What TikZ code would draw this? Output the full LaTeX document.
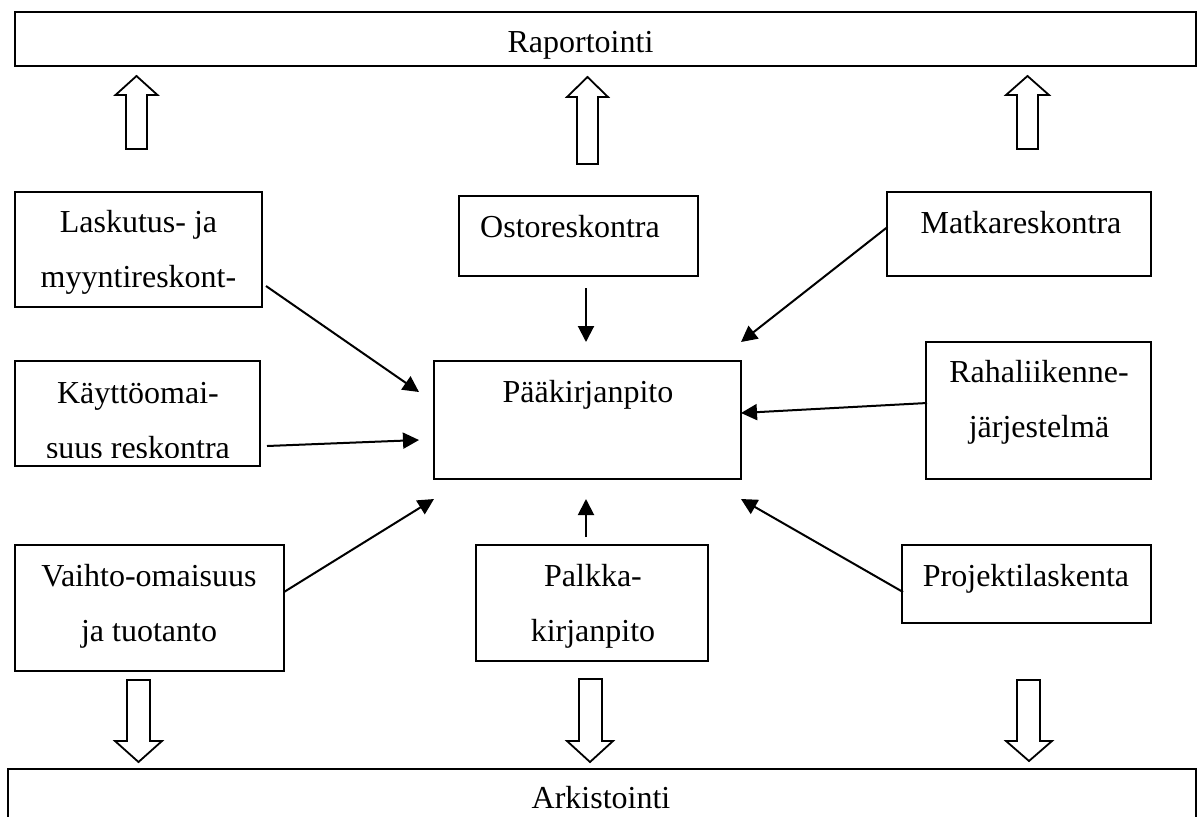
\documentclass[tikz,border=0pt]{standalone}
\usepackage{fontspec}
\setmainfont{Liberation Serif}
\usetikzlibrary{arrows.meta}
\begin{document}
\begin{tikzpicture}[x=0.5pt,y=-0.5pt,
  box/.style={draw,line width=1pt,inner sep=0pt,outer sep=0pt,rectangle},
  txt/.style={anchor=base,align=center,inner sep=0pt,font=\fontsize{16pt}{27.5pt}\selectfont},
  conn/.style={line width=1pt,-{Triangle[length=8pt,width=8pt]}},
  hollow/.style={draw,line width=0.9pt,fill=white,line join=miter}]
\useasboundingbox (0,0) rectangle (1200,816);
\clip (0,0) rectangle (1200,816);

% boxes
\node[box,minimum width=590.5pt,minimum height=27pt] (rap) at (605.5,39) {};
\node[box,minimum width=123.5pt,minimum height=57.5pt] (lask) at (138.5,249.5) {};
\node[box,minimum width=119.5pt,minimum height=40pt] (osto) at (578.5,236) {};
\node[box,minimum width=132pt,minimum height=42pt] (matka) at (1019,234) {};
\node[box,minimum width=122.5pt,minimum height=52.5pt] (kaytto) at (137.5,413.5) {};
\node[box,minimum width=153.5pt,minimum height=59pt] (paa) at (587.5,420) {};
\node[box,minimum width=112.5pt,minimum height=68.5pt] (raha) at (1038.5,410.5) {};
\node[box,minimum width=134.5pt,minimum height=63pt] (vaihto) at (149.5,608) {};
\node[box,minimum width=116pt,minimum height=58pt] (palkka) at (592,603) {};
\node[box,minimum width=124.5pt,minimum height=39pt] (proj) at (1026.5,584) {};
\node[box,minimum width=594pt,minimum height=50pt] (ark) at (602,819) {};

% texts (base anchor = baseline of the last line)
\node[txt] (rapT) at (580.5,52) {Raportointi};
\node[txt] (laskT) at (138.5,287) {Laskutus- ja\\myyntireskont-};
\node[txt] (ostoT) at (570,237) {Ostoreskontra};
\node[txt] (matkaT) at (1021,233) {Matkareskontra};
\begin{scope}
  \clip ([yshift=4.5pt]kaytto.south west) rectangle (kaytto.north east);
  \node[txt] (kayttoT) at (138,458) {Käyttöomai-\\suus reskontra};
\end{scope}
\node[txt] (paaT) at (588,402) {Pääkirjanpito};
\node[txt] (rahaT) at (1039,437) {Rahaliikenne-\\järjestelmä};
\node[txt] (vaihtoT) at (149,641) {Vaihto-omaisuus\\ja tuotanto};
\node[txt] (palkkaT) at (593,641) {Palkka-\\kirjanpito};
\node[txt] (projT) at (1026,586) {Projektilaskenta};
\node[txt] (arkT) at (601,808) {Arkistointi};

% arrow tips around the central box
\coordinate (t1) at ([shift={(-7.5pt,14pt)}]paa.west);
\coordinate (t2) at ([shift={(-0.75pt,9.5pt)}]paa.north);
\coordinate (t3) at ([shift={(0pt,9.5pt)}]paa.north east);
\coordinate (t4) at ([shift={(-7.5pt,-10pt)}]paa.west);
\coordinate (t5) at ([shift={(0pt,3.5pt)}]paa.east);
\coordinate (t6) at ([shift={(0pt,-10pt)}]paa.south west);
\coordinate (t7) at ([shift={(-0.75pt,-10pt)}]paa.south);
\coordinate (t8) at ([shift={(0pt,-10pt)}]paa.south east);

% connectors
\draw[conn] ([shift={(2pt,-18.25pt)}]lask.east) -- (t1);
\draw[conn] ([shift={(3.75pt,-6pt)}]osto.south) -- (t2);
\draw[conn] ([shift={(0.25pt,3.5pt)}]matka.west) -- (t3);
\draw[conn] ([shift={(3.5pt,-16.25pt)}]kaytto.east) -- (t4);
\draw[conn] ([shift={(0.5pt,3.75pt)}]raha.west) -- (t5);
\draw[conn] ([shift={(0pt,8pt)}]vaihto.east) -- (t6);
\draw[conn] ([shift={(-3pt,4pt)}]palkka.north) -- (t7);
\draw[conn] ([shift={(0.5pt,-4pt)}]proj.west) -- (t8);

% hollow block arrows up to Raportointi
\draw[hollow] (136.5,76) -- (157.5,95) -- (147,95) -- (147,149) -- (126,149) -- (126,95) -- (115.5,95) -- cycle;
\draw[hollow] (587.5,77) -- (608,97) -- (598,97) -- (598,164) -- (577,164) -- (577,97) -- (567,97) -- cycle;
\draw[hollow] (1027.5,76) -- (1049,95) -- (1038,95) -- (1038,149) -- (1017,149) -- (1017,95) -- (1006,95) -- cycle;
% hollow block arrows down to Arkistointi
\draw[hollow] (127,680) -- (150,680) -- (150,741) -- (162,741) -- (138.5,762) -- (115,741) -- (127,741) -- cycle;
\draw[hollow] (579,679) -- (602,679) -- (602,741) -- (613,741) -- (590,762) -- (567,741) -- (579,741) -- cycle;
\draw[hollow] (1017,680) -- (1040,680) -- (1040,741) -- (1052,741) -- (1029,761) -- (1006,741) -- (1017,741) -- cycle;
\end{tikzpicture}
\end{document}
